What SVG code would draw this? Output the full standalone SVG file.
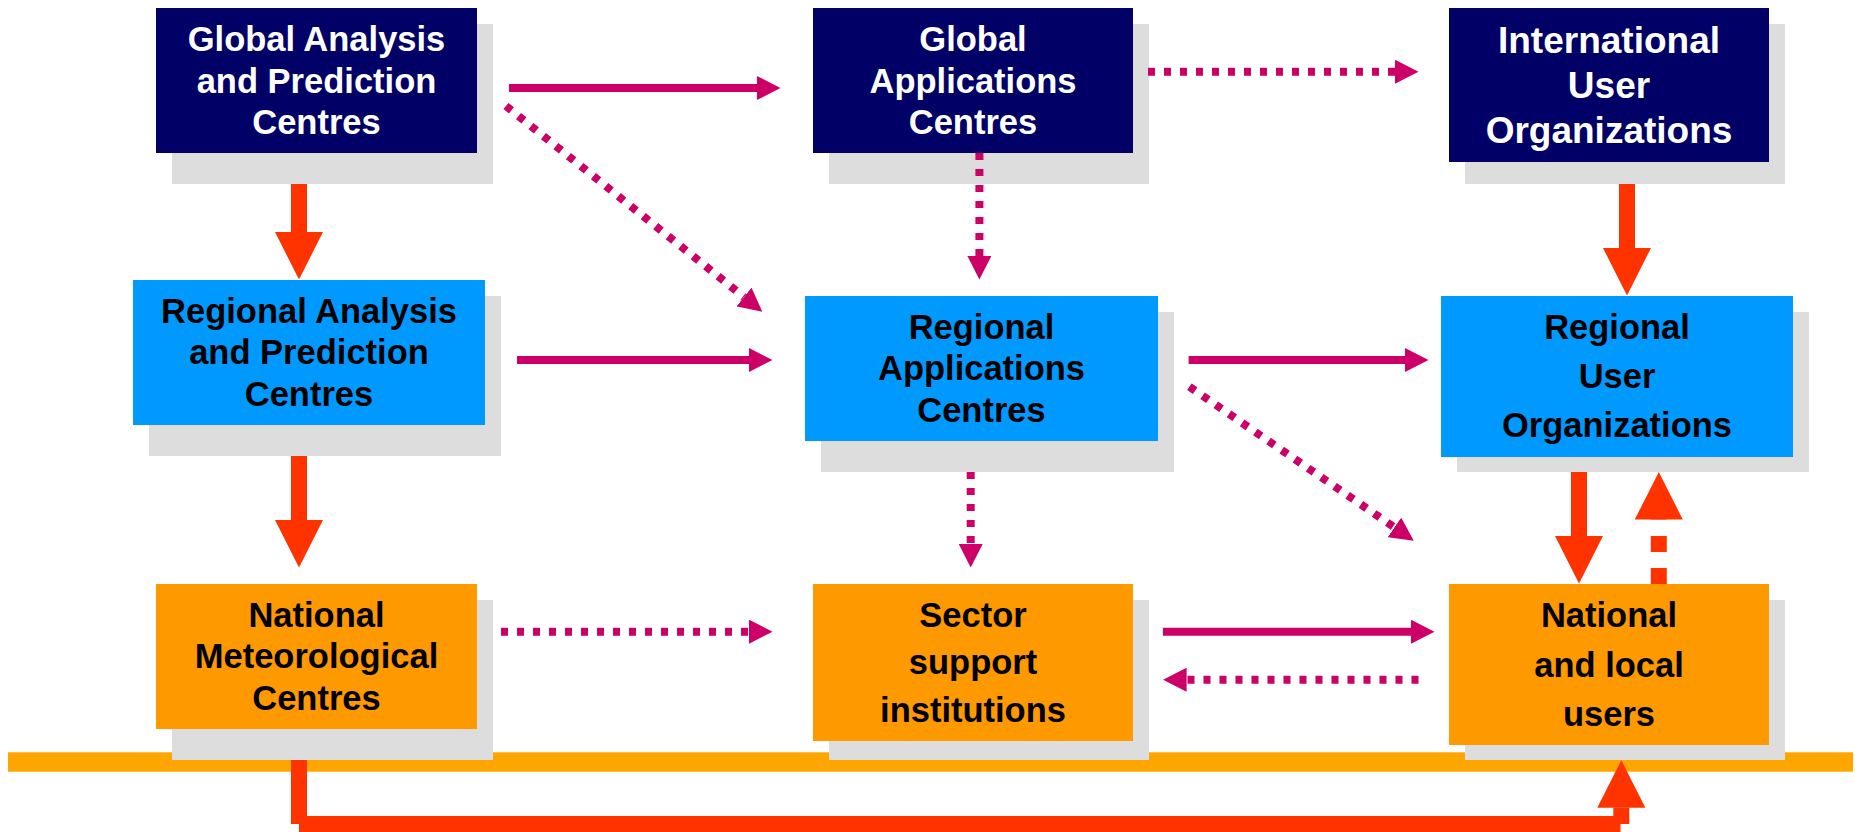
<svg xmlns="http://www.w3.org/2000/svg" width="1855" height="832" viewBox="0 0 1855 832">
<defs>
<style>
.sh{fill:#DDDDDD}
.navy{fill:#000066}
.blue{fill:#0099FF}
.orng{fill:#FF9900}
.t{font-family:"Liberation Sans",Arial,Helvetica,sans-serif;font-weight:bold;font-size:34.5px;text-anchor:middle}
.w{fill:#FFFFFF}
.k{fill:#000000}
.mg{stroke:#CC0066;stroke-width:8;fill:none}
.dot{stroke-dasharray:7 9}
.rd{stroke:#FF3300;stroke-width:16;fill:none}
.dsh{stroke-dasharray:16 16}
.mm{marker-end:url(#mh)}
.rm{marker-end:url(#rh)}
</style>
<marker id="mh" markerUnits="userSpaceOnUse" orient="auto" viewBox="0 -12 23.5 24" markerWidth="23.5" markerHeight="24" refX="0" refY="0">
<path d="M0,-12 L23.5,0 L0,12 Z" fill="#CC0066"/>
</marker>
<marker id="rh" markerUnits="userSpaceOnUse" orient="auto" viewBox="0 -24 47.5 48" markerWidth="47.5" markerHeight="48" refX="0" refY="0">
<path d="M0,-24 L47.5,0 L0,24 Z" fill="#FF3300"/>
</marker>
</defs>
<rect id="bar" x="8" y="752.3" width="1845" height="19.4" fill="#FFA500"/>
<g id="gapc">
<rect class="sh" x="172" y="24" width="321" height="160"/>
<rect class="navy" x="156" y="8" width="321" height="145"/>
<text class="t w"><tspan x="316.5" y="50.7">Global Analysis</tspan><tspan x="316.5" y="92.7">and Prediction</tspan><tspan x="316.5" y="134.3">Centres</tspan></text>
</g>
<g id="gac">
<rect class="sh" x="829" y="24" width="320" height="160"/>
<rect class="navy" x="813" y="8" width="320" height="145"/>
<text class="t w"><tspan x="973" y="50.7">Global</tspan><tspan x="973" y="92.7">Applications</tspan><tspan x="973" y="134.3">Centres</tspan></text>
</g>
<g id="iuo">
<rect class="sh" x="1465" y="24" width="320" height="160"/>
<rect class="navy" x="1449" y="8" width="320" height="154"/>
<text class="t w" style="font-size:37px"><tspan x="1609" y="53.3">International</tspan><tspan x="1609" y="97.7">User</tspan><tspan x="1609" y="142.7">Organizations</tspan></text>
</g>
<g id="rapc">
<rect class="sh" x="149" y="296" width="352" height="160"/>
<rect class="blue" x="133" y="280" width="352" height="145"/>
<text class="t k"><tspan x="309" y="322.7">Regional Analysis</tspan><tspan x="309" y="364.3">and Prediction</tspan><tspan x="309" y="406">Centres</tspan></text>
</g>
<g id="rac">
<rect class="sh" x="821" y="312" width="353" height="160"/>
<rect class="blue" x="805" y="296" width="353" height="145"/>
<text class="t k"><tspan x="981.5" y="339">Regional</tspan><tspan x="981.5" y="380">Applications</tspan><tspan x="981.5" y="421.7">Centres</tspan></text>
</g>
<g id="ruo">
<rect class="sh" x="1457" y="312" width="352" height="160"/>
<rect class="blue" x="1441" y="296" width="352" height="161"/>
<text class="t k"><tspan x="1617" y="339">Regional</tspan><tspan x="1617" y="388.3">User</tspan><tspan x="1617" y="437.3">Organizations</tspan></text>
</g>
<g id="nmc">
<rect class="sh" x="172" y="600" width="321" height="160"/>
<rect class="orng" x="156" y="584" width="321" height="145"/>
<text class="t k"><tspan x="316.5" y="626.7">National</tspan><tspan x="316.5" y="668.3">Meteorological</tspan><tspan x="316.5" y="710">Centres</tspan></text>
</g>
<g id="ssi">
<rect class="sh" x="829" y="600" width="320" height="160"/>
<rect class="orng" x="813" y="584" width="320" height="157"/>
<text class="t k"><tspan x="973" y="626.7">Sector</tspan><tspan x="973" y="674.3">support</tspan><tspan x="973" y="722.3">institutions</tspan></text>
</g>
<g id="nlu">
<rect class="sh" x="1465" y="600" width="320" height="160"/>
<rect class="orng" x="1449" y="584" width="320" height="161"/>
<text class="t k"><tspan x="1609" y="626.7">National</tspan><tspan x="1609" y="676.7">and local</tspan><tspan x="1609" y="725.7">users</tspan></text>
</g>
<g id="connectors">
<line class="mg mm" x1="509" y1="88" x2="757" y2="88"/>
<line class="mg dot mm" x1="506" y1="106" x2="744" y2="297"/>
<line class="mg dot mm" x1="1148" y1="71.7" x2="1395" y2="71.7"/>
<line class="mg dot mm" x1="979.4" y1="153" x2="979.4" y2="256"/>
<line class="rd rm" x1="1627" y1="184" x2="1627" y2="248"/>
<line class="rd rm" x1="299" y1="184" x2="299" y2="232"/>
<line class="mg mm" x1="517" y1="360" x2="749" y2="360"/>
<line class="rd rm" x1="299" y1="456" x2="299" y2="520"/>
<line class="mg mm" x1="1188.6" y1="360" x2="1405" y2="360"/>
<line class="mg dot mm" x1="1189.4" y1="386.7" x2="1394.4" y2="527.4"/>
<line class="mg dot mm" x1="970.7" y1="472" x2="970.7" y2="544"/>
<line class="rd rm" x1="1579" y1="472" x2="1579" y2="536"/>
<line class="rd dsh rm" x1="1658.8" y1="584" x2="1658.8" y2="519.5"/>
<line class="mg dot mm" x1="501" y1="631.7" x2="749" y2="631.7"/>
<line class="mg mm" x1="1163" y1="631.7" x2="1411" y2="631.7"/>
<line class="mg dot mm" x1="1418.5" y1="679.7" x2="1186.6" y2="679.7"/>
<line class="rd" x1="299" y1="760" x2="299" y2="824"/>
<line class="rd" x1="299" y1="824" x2="1620.5" y2="824"/>
<line class="rd rm" x1="1621.3" y1="824" x2="1621.3" y2="807.7"/>
</g>
</svg>
